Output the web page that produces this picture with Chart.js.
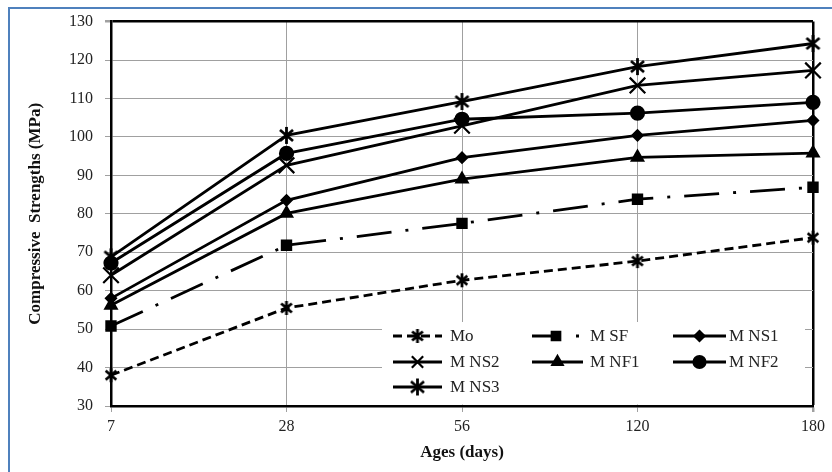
<!DOCTYPE html>
<html lang="en">
<head>
  <meta charset="UTF-8" />
  <title>Compressive Strengths</title>
  <script src="https://cdn.jsdelivr.net/npm/chart.js"></script>
  <style>
    body { margin: 0; background: #fff; }
    .wrap { position: relative; width: 832px; height: 472px; overflow: hidden; }
    .frame {
      position: absolute; left: 8px; top: 7px;
      width: 900px; height: 600px;
      border: 2px solid #4f81bd;
      pointer-events: none;
    }
    canvas { position: absolute; left: 0; top: 0; }
  </style>
</head>
<body>
<div class="wrap">
  <canvas id="chart" width="832" height="472"></canvas>
  <div class="frame"></div>
</div>
<script>
  const ages = ['7', '28', '56', '120', '180'];
  const seriesNames = ['Mo', 'M SF', 'M NS1', 'M NS2', 'M NF1', 'M NF2', 'M NS3'];
  const mo   = [38, 55.5, 62.7, 67.7, 73.8];
  const msf  = [50.8, 71.8, 77.5, 83.8, 86.9];
  const mns1 = [58, 83.5, 94.6, 100.4, 104.3];
  const mns2 = [64, 92.6, 102.9, 113.4, 117.3];
  const mnf1 = [56.2, 80.1, 89, 94.7, 95.8];
  const mnf2 = [67.2, 95.7, 104.6, 106.2, 109];
  const mns3 = [68.8, 100.4, 109.2, 118.3, 124.3];
  const yTicks = [30, 40, 50, 60, 70, 80, 90, 100, 110, 120, 130];

  const serif = "'Liberation Serif', 'Times New Roman', serif";
  const textColor = '#222';

  // six-spoke asterisk used by Mo and M NS3
  function asterisk(size, lw) {
    const c = document.createElement('canvas');
    c.width = size; c.height = size;
    const g = c.getContext('2d');
    const m = size / 2, r = size / 2 - 1;
    g.strokeStyle = '#000';
    g.lineWidth = lw;
    g.beginPath();
    g.moveTo(m, m - r); g.lineTo(m, m + r);
    [40, 140].forEach(function (a) {
      const t = a * Math.PI / 180;
      g.moveTo(m - r * Math.cos(t), m - r * Math.sin(t));
      g.lineTo(m + r * Math.cos(t), m + r * Math.sin(t));
    });
    g.stroke();
    return c;
  }
  const starSmall = asterisk(16, 2.8);
  const starBig = asterisk(19, 2.8);

  function series(label, data, style, radius, dash) {
    return {
      label: label,
      data: data,
      borderColor: '#000',
      backgroundColor: '#000',
      borderWidth: 2.8,
      borderDash: dash || [],
      pointStyle: style,
      pointRadius: radius,
      pointBorderWidth: 2.2,
      pointBorderColor: '#000',
      pointBackgroundColor: '#000',
      tension: 0
    };
  }

  const datasets = [
    series(seriesNames[0], mo, starSmall, 7, [9, 5]),
    series(seriesNames[1], msf, 'rect', 6.5, [35, 14, 3, 14]),
    series(seriesNames[2], mns1, 'rectRot', 5),
    series(seriesNames[3], mns2, 'crossRot', 11),
    series(seriesNames[4], mnf1, 'triangle', 6.5),
    series(seriesNames[5], mnf2, 'circle', 6.5),
    series(seriesNames[6], mns3, starBig, 8)
  ];

  function marker(ctx, ds, x, y, r) {
    const opts = {
      pointStyle: ds.pointStyle, radius: r, rotation: 0,
      borderWidth: ds.pointBorderWidth
    };
    ctx.save();
    ctx.setLineDash([]);
    ctx.strokeStyle = '#000';
    ctx.fillStyle = '#000';
    ctx.lineWidth = ds.pointBorderWidth;
    Chart.helpers.drawPoint(ctx, opts, x, y);
    ctx.restore();
  }

  // legend box sits in the bottom right of the plot
  const boxLegend = {
    id: 'boxLegend',
    afterDraw(chart) {
      const ctx = chart.ctx;
      const area = chart.chartArea;
      ctx.save();
      ctx.fillStyle = '#fff';
      ctx.fillRect(382, 322, area.right - 8 - 382, area.bottom - 1.5 - 322);
      const cols = [393, 532, 673];
      const lens = [49, 51, 53];
      const textX = [450, 590, 729];
      const rows = [336, 362, 387];
      const radii = [6, 6, 5, 8, 6, 6, 6];
      ctx.font = '17px ' + serif;
      ctx.textBaseline = 'middle';
      chart.data.datasets.forEach(function (ds, i) {
        const c = i % 3;
        const x = cols[c];
        const y = rows[Math.floor(i / 3)];
        const len = lens[c];
        ctx.strokeStyle = '#000';
        ctx.lineWidth = 2.8;
        if (i === 0) ctx.setLineDash([9, 5]);
        else if (i === 1) ctx.setLineDash([24, 20, 3, 8]);
        else ctx.setLineDash([]);
        ctx.beginPath();
        ctx.moveTo(x, y);
        ctx.lineTo(x + len, y);
        ctx.stroke();
        marker(ctx, ds, x + (i === 1 ? 24 : len / 2), y, radii[i]);
        ctx.fillStyle = textColor;
        ctx.fillText(ds.label, textX[c], y + 1);
      });
      ctx.restore();
    }
  };

  new Chart(document.getElementById('chart'), {
    type: 'line',
    data: { labels: ages, datasets: datasets },
    plugins: [boxLegend],
    options: {
      responsive: false,
      animation: false,
      layout: { padding: { left: 0, top: 21, right: 19, bottom: 0 } },
      plugins: {
        legend: { display: false },
        tooltip: { enabled: false }
      },
      scales: {
        x: {
          offset: false,
          afterFit(scale) { scale.height = 66; },
          grid: {
            color: ctx => ctx.index === ages.length - 1 ? '#000' : '#a0a0a0',
            lineWidth: ctx => ctx.index === ages.length - 1 ? 2.5 : 1,
            tickColor: '#a0a0a0',
            tickLength: 6
          },
          border: { color: '#000', width: 2.5 },
          ticks: { color: textColor, font: { family: serif, size: 16 }, padding: 5 },
          title: {
            display: true, text: 'Ages (days)', color: '#111',
            font: { family: serif, size: 17, weight: 'bold' },
            padding: { top: 0, bottom: 9 }
          }
        },
        y: {
          min: 30,
          max: 130,
          afterFit(scale) { scale.width = 111; },
          afterBuildTicks(scale) { scale.ticks = yTicks.map(v => ({ value: v })); },
          grid: {
            color: ctx => ctx.tick && ctx.tick.value === 130 ? '#000' : '#a0a0a0',
            lineWidth: ctx => ctx.tick && ctx.tick.value === 130 ? 2.5 : 1,
            tickColor: '#a0a0a0',
            tickLength: 6
          },
          border: { color: '#000', width: 2.5 },
          ticks: { color: textColor, font: { family: serif, size: 16 }, padding: 12 },
          title: {
            display: true, text: 'Compressive  Strengths (MPa)', color: '#111',
            font: { family: serif, size: 17, weight: 'bold' },
            padding: { top: 25, bottom: 0 }
          }
        }
      }
    }
  });
</script>
</body>
</html>
